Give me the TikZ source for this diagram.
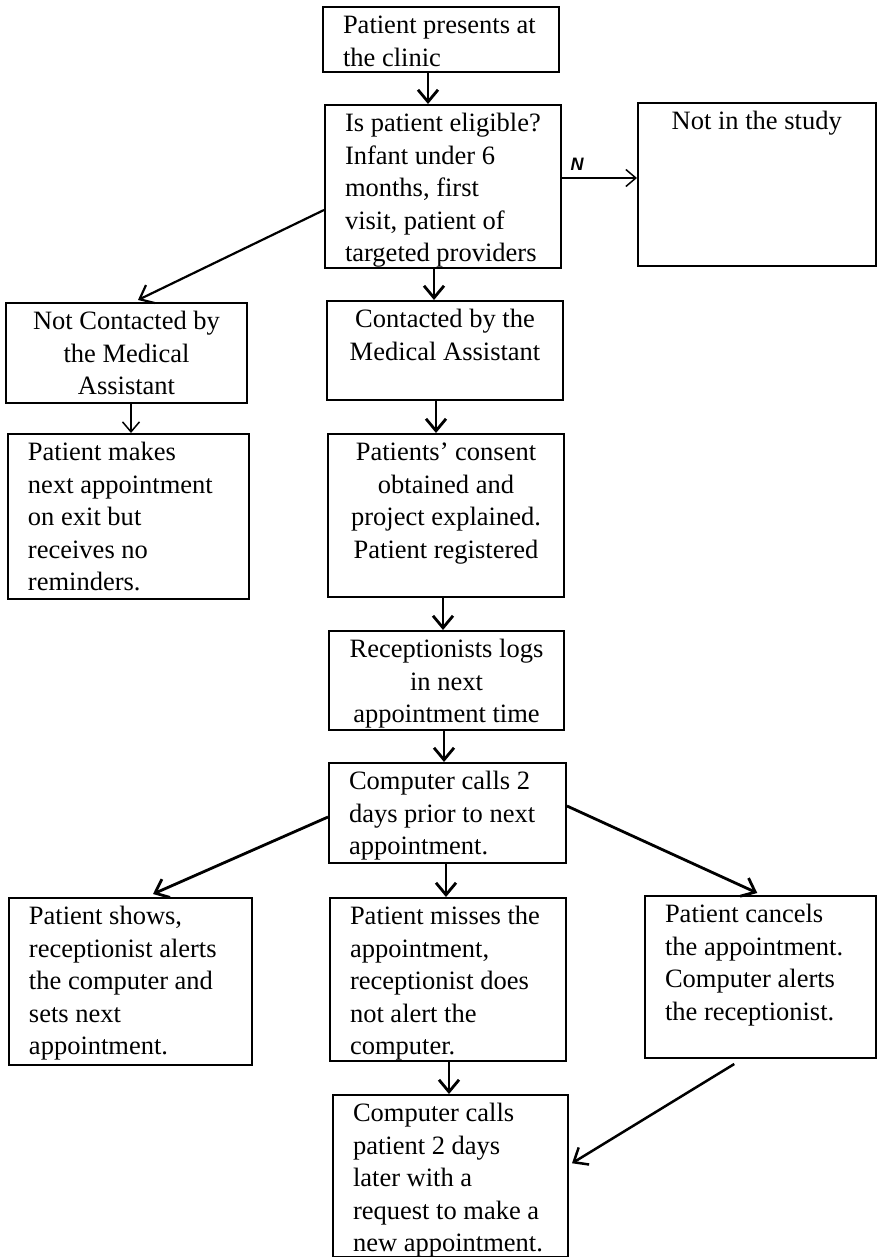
\documentclass[tikz,border=0pt]{standalone}
\usepackage{fontspec}
\setmainfont{Liberation Serif}
\newfontfamily\handfont{Liberation Sans}
\usetikzlibrary{arrows.meta}

% text of a box: width, height, lines
\newcommand{\lbox}[3]{\parbox[t][#2][t]{#1}{\vspace*{4pt}\raggedright\leftskip=20pt\strut #3}}
\newcommand{\cbox}[3]{\parbox[t][#2][t]{#1}{\vspace*{4pt}\centering\strut #3}}

\tikzset{
  box/.style={draw, line width=2pt, inner sep=0pt, anchor=north west, font=\fontsize{26.5}{32.5}\selectfont},
  arr/.style={line width=2.8pt, -{Straight Barb[length=12pt,width=20pt]}},
  thinarr/.style={line width=1.5pt, -{Straight Barb[length=10pt,width=17pt]}},
}

\begin{document}
\begin{tikzpicture}[x=1pt,y=-1pt]
\useasboundingbox (0,0) rectangle (876,1257);

% middle column
\node[box] (clinic) at (322,6) {\lbox{236pt}{65pt}{Patient presents at\\the clinic}};
\node[box] (eligible) at (324,104) {\lbox{236pt}{163pt}{Is patient eligible?\\Infant under 6\\months, first\\visit, patient of\\targeted providers}};
\node[box] (contacted) at (326,300) {\cbox{236pt}{99pt}{Contacted by the\\Medical Assistant}};
\node[box] (consent) at (327,433) {\cbox{236pt}{163pt}{Patients' consent\\obtained and\\project explained.\\Patient registered}};
\node[box] (logs) at (328,630) {\cbox{235pt}{99pt}{Receptionists logs\\in next\\appointment time}};
\node[box] (calls) at (328,762) {\lbox{237pt}{100pt}{Computer calls 2\\days prior to next\\appointment.}};
\node[box] (misses) at (329,897) {\lbox{236pt}{163pt}{Patient misses the\\appointment,\\receptionist does\\not alert the\\computer.}};
\node[box] (recall) at (332,1094) {\lbox{235pt}{161.5pt}{Computer calls\\patient 2 days\\later with a\\request to make a\\new appointment.}};

% side boxes
\node[box] (notstudy) at (637,102) {\cbox{237.5pt}{163pt}{Not in the study}};
\node[box] (notcontacted) at (5,302) {\cbox{241pt}{100pt}{Not Contacted by\\the Medical\\Assistant}};
\node[box] (noremind) at (7,433) {\lbox{241pt}{165pt}{Patient makes\\next appointment\\on exit but\\receives no\\reminders.}};
\node[box] (shows) at (8,897) {\lbox{243pt}{167pt}{Patient shows,\\receptionist alerts\\the computer and\\sets next\\appointment.}};
\node[box] (cancels) at (644,895) {\lbox{230.5pt}{162pt}{Patient cancels\\the appointment.\\Computer alerts\\the receptionist.}};

\node[font=\handfont\bfseries\itshape\fontsize{18}{18}\selectfont] (nlab) at (577,164) {N};

% arrows down the middle
\draw[arr] ([xshift=-13pt]clinic.south) -- ([xshift=-15pt]eligible.north);
\draw[arr] ([xshift=-9pt]eligible.south) -- ([xshift=-11pt]contacted.north);
\draw[arr] ([xshift=-9pt]contacted.south) -- ([xshift=-10pt]consent.north);
\draw[arr] ([xshift=-3pt]consent.south) -- ([xshift=-3.5pt]logs.north);
\draw[arr] ([xshift=-2.5pt]logs.south) -- ([xshift=-3.5pt]calls.north);
\draw[arr] ([xshift=-1.5pt]calls.south) -- ([xshift=-2pt]misses.north);
\draw[arr] ([xshift=1pt]misses.south) -- ([xshift=-1.5pt]recall.north);

% branches
\draw[thinarr] ([yshift=8.5pt]eligible.east) -- ([yshift=8.5pt]eligible.east -| notstudy.west);
\draw[thinarr] ([xshift=4.5pt]notcontacted.south) -- ([xshift=2.5pt]noremind.north);
\draw[arr, line width=2.2pt] ([yshift=-23.5pt]eligible.west) -- ([xshift=11.5pt,yshift=2pt]notcontacted.north);
\draw[arr] ([yshift=-4pt]calls.west) -- ([xshift=22.5pt,yshift=3pt]shows.north);
\draw[arr] ([yshift=7pt]calls.east) -- ([xshift=-3pt,yshift=2pt]cancels.north);
\draw[arr, line width=2.5pt] ([xshift=-26pt,yshift=-5pt]cancels.south) -- ([xshift=3pt,yshift=12.5pt]recall.east);
\end{tikzpicture}
\end{document}
